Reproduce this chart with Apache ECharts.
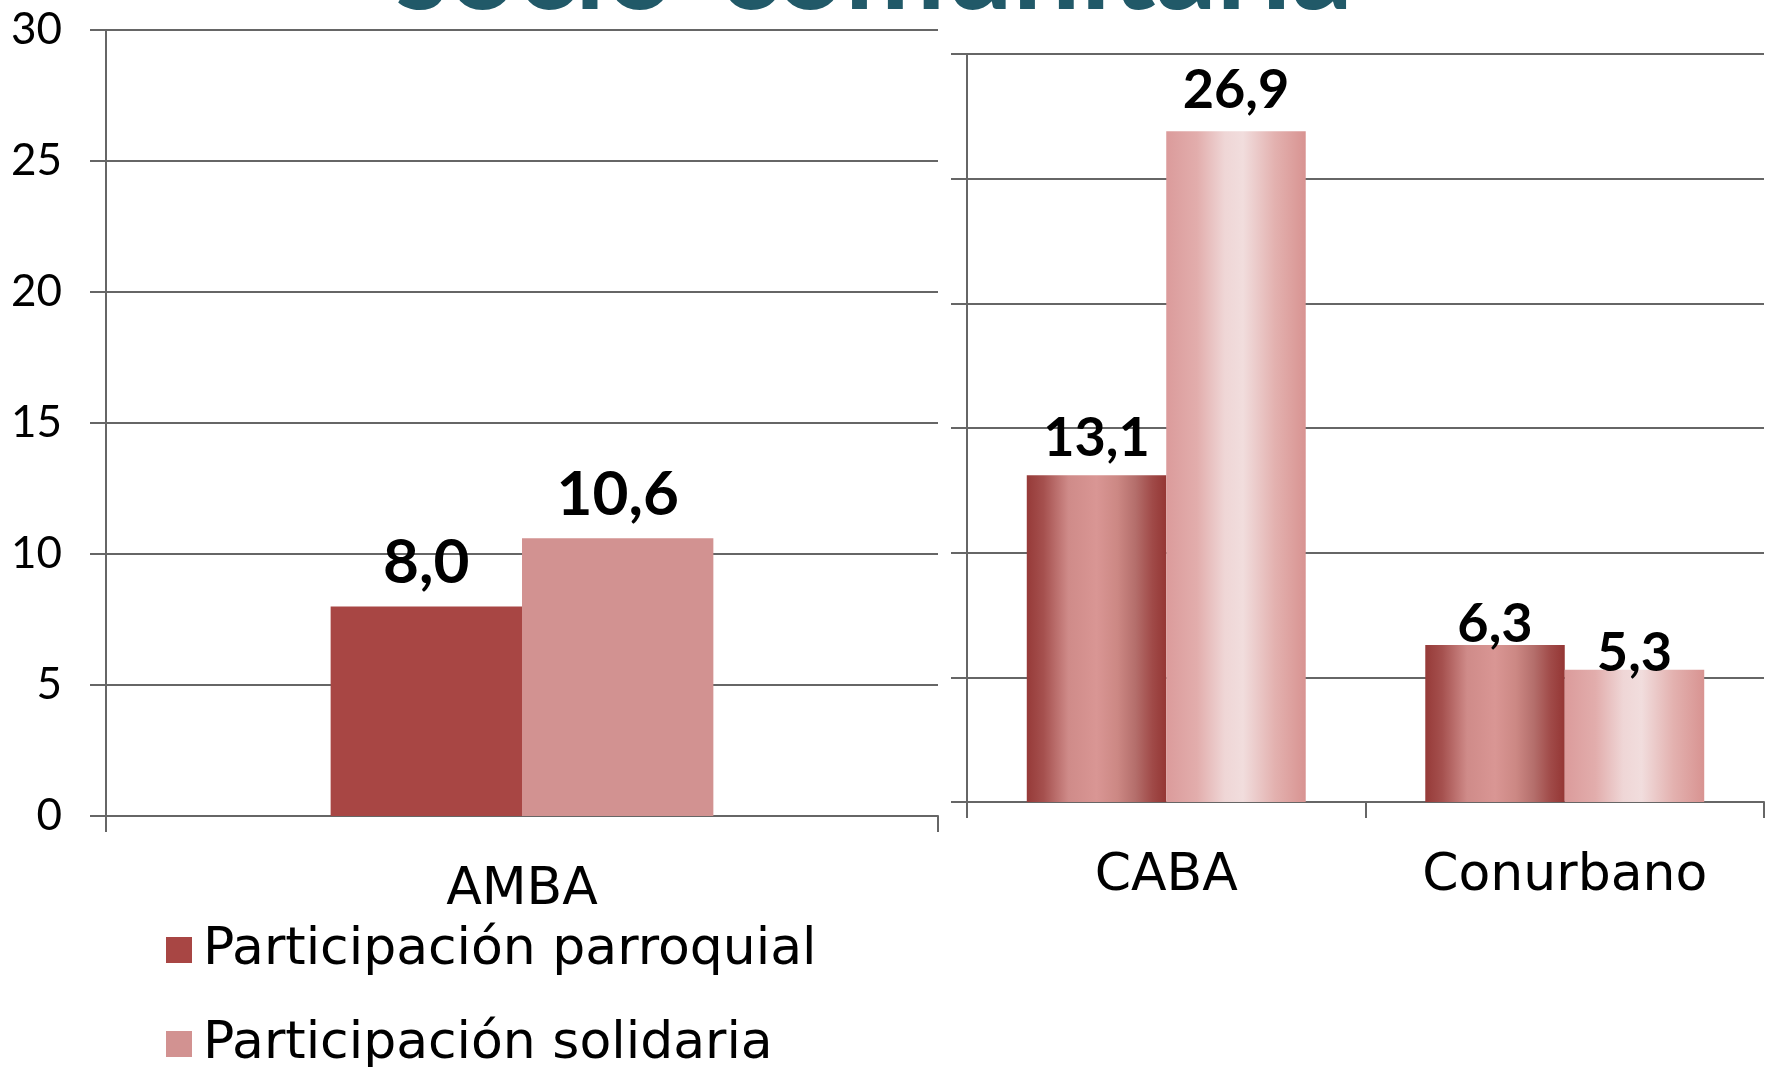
<!DOCTYPE html>
<html>
<head>
<meta charset="utf-8">
<title>Participación socio-comunitaria</title>
<script src="https://cdn.jsdelivr.net/npm/echarts@6/dist/echarts.min.js"></script>
<style>
  html, body { margin: 0; padding: 0; background: #fff; }
  #chart { width: 1775px; height: 1067px; }
</style>
</head>
<body>
<div id="chart"></div>
<script>
// data
const seriesNames = ['Participación parroquial', 'Participación solidaria'];
const leftCategories = ['AMBA'];
const leftParroquial = [8.0];
const leftSolidaria = [10.6];
const rightCategories = ['CABA', 'Conurbano'];
const rightParroquial = [13.1, 6.3];
const rightSolidaria = [26.9, 5.3];
const yTicks = [0, 5, 10, 15, 20, 25, 30];

const FONT = 'Lato, "DejaVu Sans", sans-serif';
const WIDE = '"DejaVu Sans", sans-serif';
const darkFlat = '#a84644';
const lightFlat = '#d29291';

// shaded fills used on the right panel
const darkGrad = {
  type: 'linear', x: 0, y: 0, x2: 1, y2: 0,
  colorStops: [
    { offset: 0, color: '#963a38' },
    { offset: 0.12, color: '#a5504e' },
    { offset: 0.3, color: '#cf8b89' },
    { offset: 0.5, color: '#d99694' },
    { offset: 0.65, color: '#cc8884' },
    { offset: 0.78, color: '#b46e6b' },
    { offset: 0.9, color: '#a04a48' },
    { offset: 1, color: '#943634' },
  ],
};
const lightGrad = {
  type: 'linear', x: 0, y: 0, x2: 1, y2: 0,
  colorStops: [
    { offset: 0, color: '#db9b9b' },
    { offset: 0.22, color: '#e2adac' },
    { offset: 0.42, color: '#efd6d6' },
    { offset: 0.55, color: '#f1dddd' },
    { offset: 0.78, color: '#e3b1af' },
    { offset: 1, color: '#d89391' },
  ],
};

const fmt = (p) => p.value.toFixed(1).replace('.', ',');

// label lift above bar top, per category of the right panel
const parroquialLabelDist = [10, -7];
const solidariaLabelDist = [14, -11];

const yAxisBase = (showLabels) => ({
  type: 'value',
  min: yTicks[0],
  max: yTicks[yTicks.length - 1],
  interval: yTicks[1] - yTicks[0],
  axisLine: { show: true, lineStyle: { color: '#666', width: 2 } },
  axisTick: { show: true, length: 16, lineStyle: { color: '#666', width: 2 } },
  splitLine: { show: true, lineStyle: { color: '#666', width: 2 } },
  axisLabel: {
    show: showLabels,
    margin: 44,
    fontFamily: FONT,
    fontSize: 44,
    color: '#000',
  },
});

const xAxisBase = (gridIndex, data) => ({
  type: 'category',
  gridIndex,
  data,
  axisLine: { show: true, lineStyle: { color: '#666', width: 2 } },
  axisTick: { show: true, length: 16, alignWithLabel: false, lineStyle: { color: '#666', width: 2 } },
  axisLabel: {
    margin: 48,
    fontFamily: WIDE,
    fontSize: 52,
    color: '#000',
  },
});

const legendItem = (name, color, top) => ({
  orient: 'vertical',
  left: 161,
  top,
  icon: 'rect',
  itemWidth: 26,
  itemHeight: 26,
  textStyle: { fontFamily: WIDE, fontSize: 52, color: '#000', padding: [0, 0, 0, 6] },
  data: [{ name, itemStyle: { color } }],
});

const chart = echarts.init(document.getElementById('chart'), null, { renderer: 'canvas' });

const option = {
  animation: false,
  backgroundColor: '#fff',
  graphic: [
    {
      type: 'text',
      x: 874,
      y: -90,
      style: {
        text: 'socio-comunitaria',
        font: 'bold 120px ' + FONT,
        fill: '#215968',
        align: 'center',
      },
    },
  ],
  legend: [
    legendItem(seriesNames[0], darkFlat, 919),
    legendItem(seriesNames[1], lightFlat, 1013),
  ],
  grid: [
    { left: 106, top: 30, width: 832, height: 786 },
    { left: 967, top: 54, width: 797, height: 748 },
  ],
  xAxis: [xAxisBase(0, leftCategories), xAxisBase(1, rightCategories)],
  yAxis: [
    Object.assign(yAxisBase(true), { gridIndex: 0 }),
    Object.assign(yAxisBase(false), { gridIndex: 1 }),
  ],
  series: [
    {
      name: seriesNames[0],
      type: 'bar',
      xAxisIndex: 0,
      yAxisIndex: 0,
      barGap: 0,
      barCategoryGap: '54%',
      data: leftParroquial,
      itemStyle: { color: darkFlat },
      label: { show: true, position: 'top', distance: 12, formatter: fmt, fontFamily: FONT, fontWeight: 'bold', fontSize: 62, color: '#000' },
    },
    {
      name: seriesNames[1],
      type: 'bar',
      xAxisIndex: 0,
      yAxisIndex: 0,
      barGap: 0,
      barCategoryGap: '54%',
      data: leftSolidaria,
      itemStyle: { color: lightFlat },
      label: { show: true, position: 'top', distance: 12, formatter: fmt, fontFamily: FONT, fontWeight: 'bold', fontSize: 62, color: '#000' },
    },
    {
      name: seriesNames[0],
      type: 'bar',
      xAxisIndex: 1,
      yAxisIndex: 1,
      barGap: 0,
      barCategoryGap: '30%',
      data: rightParroquial.map((v, i) => ({ value: v, label: { distance: parroquialLabelDist[i] } })),
      itemStyle: { color: darkGrad },
      label: { show: true, position: 'top', formatter: fmt, fontFamily: FONT, fontWeight: 'bold', fontSize: 54, color: '#000' },
    },
    {
      name: seriesNames[1],
      type: 'bar',
      xAxisIndex: 1,
      yAxisIndex: 1,
      barGap: 0,
      barCategoryGap: '30%',
      data: rightSolidaria.map((v, i) => ({ value: v, label: { distance: solidariaLabelDist[i] } })),
      itemStyle: { color: lightGrad },
      label: { show: true, position: 'top', formatter: fmt, fontFamily: FONT, fontWeight: 'bold', fontSize: 54, color: '#000' },
    },
  ],
};

chart.setOption(option);
window.addEventListener('resize', () => chart.resize());
</script>
</body>
</html>
